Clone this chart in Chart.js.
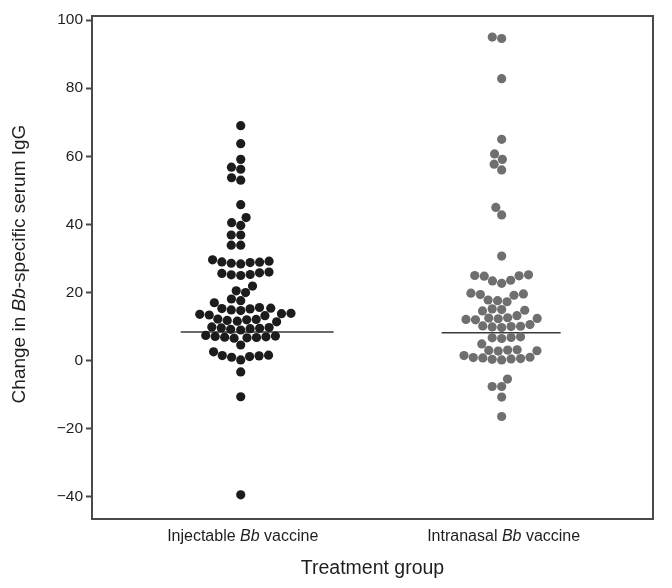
<!DOCTYPE html>
<html lang="en">
<head>
  <meta charset="UTF-8">
  <title>Bb-specific serum IgG</title>
  <script src="https://cdn.jsdelivr.net/npm/chart.js"></script>
  <style>
    body { margin: 0; background: #fff; }
  </style>
</head>
<body>
  <canvas id="chart" width="672" height="588"></canvas>

  <script>
    // values
    const groups = [
      [['Injectable ', false], ['Bb', true], [' vaccine', false]],
      [['Intranasal ', false], ['Bb', true], [' vaccine', false]]
    ];
    const injectable = [
      69, 63.7, 59.1, 56.8, 56.2, 53.7, 53.0, 45.8, 42.0, 40.5, 39.7, 36.9, 36.9, 33.9, 33.9,
      29.6, 29.0, 28.8, 28.6, 29.2, 28.4, 28.9,
      26.0, 25.8, 25.2, 25.0, 25.3, 25.6,
      21.9, 20.5, 20.0, 18.1, 17.6, 17.0,
      15.6, 15.2, 15.4, 14.9, 15.3, 14.7,
      13.8, 13.4, 13.6, 13.2, 13.9,
      12.0, 11.6, 12.2, 11.8, 11.4, 12.1,
      9.6, 9.2, 9.9, 9.4, 9.7, 9.0, 9.5,
      7.2, 6.8, 7.0, 6.6, 7.4, 6.9, 7.1, 6.7,
      4.6, 2.6, 1.6, 1.2, 1.5, 1.0, 1.4, 0.2, -3.3, -10.6, -39.4
    ];
    const intranasal = [
      95, 94.6, 82.8, 65, 60.7, 59.1, 57.7, 56, 45, 42.8, 30.7,
      25.0, 24.8, 25.2, 24.9, 23.6, 22.7, 23.4,
      19.6, 19.2, 19.8, 19.4, 17.6, 17.3, 17.8,
      15.0, 14.6, 15.2, 14.8,
      12.3, 12.0, 12.6, 12.4, 12.1, 12.5, 13.2,
      10.0, 9.7, 10.2, 9.9, 10.1, 10.6,
      6.8, 6.5, 7.0, 6.7, 4.9,
      3.0, 3.2, 2.8, 3.1, 2.9,
      1.0, 0.8, 0.5, 0.2, 0.6, 0.4, 0.9, 1.5,
      -5.4, -7.6, -7.6, -10.7, -16.4
    ];
    const medians = [8.4, 8.2];
    const yTicks = [-40, -20, 0, 20, 40, 60, 80, 100];

    const pointColors = ['#1c1c1c', '#6f6f6f'];
    const medianSpan = [[-0.23, 0.356], [-0.23, 0.226]];
    const radius = 4.6;
    const textColor = '#1e1e1e';
    const frameColor = '#4a4a4a';
    const font = '"Liberation Sans", Arial, sans-serif';

    const series = [injectable, intranasal];

    const datasets = series.map((vals, g) => ({
      type: 'scatter',
      data: vals.map(v => ({ x: g + 1, y: v })),
      backgroundColor: pointColors[g],
      borderWidth: 0,
      pointRadius: radius,
      pointHoverRadius: radius
    }));

    medians.forEach((m, g) => {
      datasets.push({
        type: 'line',
        data: [{ x: g + 1 + medianSpan[g][0], y: m }, { x: g + 1 + medianSpan[g][1], y: m }],
        borderColor: '#3a3a3a',
        borderWidth: 1.5,
        pointRadius: 0
      });
    });

    function drawMixed(ctx, parts, cx, cy, size) {
      let total = 0;
      const widths = parts.map(([t, it]) => {
        ctx.font = (it ? 'italic ' : '') + size + 'px ' + font;
        const w = ctx.measureText(t).width;
        total += w;
        return w;
      });
      let x = cx - total / 2;
      parts.forEach(([t, it], i) => {
        ctx.font = (it ? 'italic ' : '') + size + 'px ' + font;
        ctx.fillText(t, x, cy);
        x += widths[i];
      });
    }

    const decorations = {
      id: 'decorations',
      afterDraw(chart) {
        const { ctx, chartArea, scales } = chart;
        ctx.save();
        ctx.strokeStyle = frameColor;
        ctx.lineWidth = 2;
        ctx.strokeRect(chartArea.left, chartArea.top, chartArea.right - chartArea.left, chartArea.bottom - chartArea.top);

        ctx.fillStyle = textColor;
        ctx.textAlign = 'left';
        ctx.textBaseline = 'middle';
        groups.forEach((parts, g) => {
          drawMixed(ctx, parts, scales.x.getPixelForValue(g + 1) + 2, chartArea.bottom + 18, 16);
        });

        ctx.textAlign = 'center';
        ctx.font = '19.5px ' + font;
        ctx.fillText('Treatment group', (chartArea.left + chartArea.right) / 2, 569);

        ctx.translate(20, 264);
        ctx.rotate(-Math.PI / 2);
        ctx.textAlign = 'left';
        drawMixed(ctx, [['Change in ', false], ['Bb', true], ['-specific serum IgG', false]], 0, 0, 19);
        ctx.restore();
      }
    };

    const chart = new Chart(document.getElementById('chart').getContext('2d'), {
      type: 'scatter',
      data: { datasets },
      options: {
        responsive: false,
        animation: false,
        events: [],
        layout: { padding: { left: 0, right: 19, top: 16, bottom: 0 } },
        plugins: { legend: { display: false }, tooltip: { enabled: false } },
        scales: {
          x: {
            type: 'linear',
            min: 0.43,
            max: 2.58,
            grid: { display: false },
            border: { display: false },
            ticks: { display: false },
            afterFit: s => { s.height = 69; }
          },
          y: {
            min: -46.5,
            max: 101.2,
            afterFit: s => { s.width = 92; },
            afterBuildTicks: s => { s.ticks = yTicks.map(v => ({ value: v })); },
            border: { display: false },
            grid: {
              drawOnChartArea: false,
              drawTicks: true,
              tickLength: 6,
              tickWidth: 2,
              color: frameColor
            },
            ticks: {
              padding: 3,
              color: textColor,
              font: { family: font, size: 15.5 },
              callback: v => v < 0 ? '\u2212' + Math.abs(v) : String(v)
            }
          }
        }
      },
      plugins: [decorations]
    });

    // beeswarm: push each point sideways to the nearest free spot
    function swarm(values, yScale, d) {
      const order = values.map((v, i) => i).sort((a, b) => values[a] - values[b]);
      const placed = [];
      const offsets = new Array(values.length).fill(0);
      order.forEach(i => {
        const py = yScale.getPixelForValue(values[i]);
        const near = placed.filter(p => Math.abs(p.y - py) < d);
        const cands = [0];
        near.forEach(p => {
          const dx = Math.sqrt(d * d - (p.y - py) * (p.y - py));
          cands.push(p.x + dx, p.x - dx);
        });
        cands.sort((a, b) => Math.abs(a) - Math.abs(b) || a - b);
        const ok = cands.find(cx => near.every(p => Math.hypot(p.x - cx, p.y - py) >= d - 0.01));
        offsets[i] = ok;
        placed.push({ x: ok, y: py });
      });
      return offsets;
    }

    const xs = chart.scales.x;
    const unit = xs.getPixelForValue(1) - xs.getPixelForValue(0);
    series.forEach((vals, g) => {
      const off = swarm(vals, chart.scales.y, radius * 2 + 0.3);
      chart.data.datasets[g].data = vals.map((v, i) => ({ x: g + 1 + off[i] / unit, y: v }));
    });
    chart.update('none');
  </script>
</body>
</html>
